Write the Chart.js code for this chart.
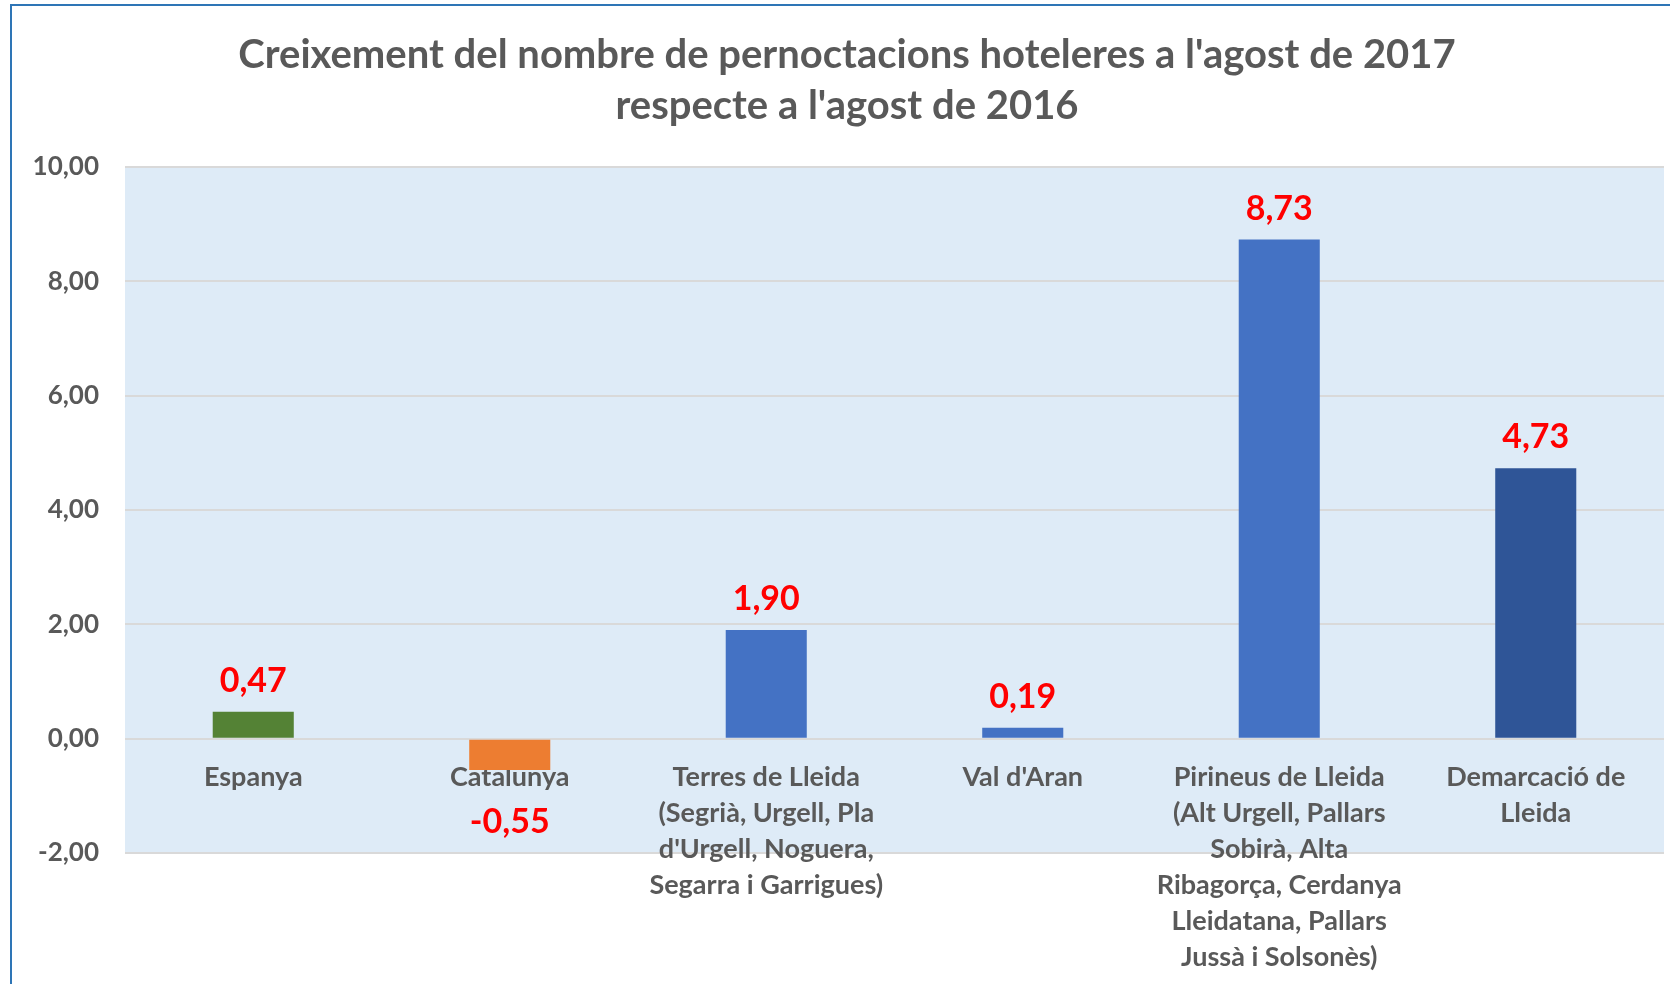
<!DOCTYPE html>
<html>
<head>
<meta charset="utf-8">
<script src="https://cdn.jsdelivr.net/npm/chart.js@4"></script>
<style>
  body { margin: 0; background: #fff; }
  #frame { position: absolute; left: 10px; top: 4px; width: 1660px; height: 980px;
           border-left: 2px solid #2E75B6; border-top: 2px solid #2E75B6; }
  #myChart { position: absolute; left: 0; top: 0; }
</style>
</head>
<body>
<div id="frame"></div>
<canvas id="myChart" width="1670" height="984"></canvas>
<script>
const categories = [
    'Espanya',
    'Catalunya',
    ['Terres de Lleida', '(Segrià, Urgell, Pla', "d'Urgell, Noguera,", 'Segarra i Garrigues)'],
    "Val d'Aran",
    ['Pirineus de Lleida', '(Alt Urgell, Pallars', 'Sobirà, Alta', 'Ribagorça, Cerdanya', 'Lleidatana, Pallars', 'Jussà i Solsonès)'],
    ['Demarcació de', 'Lleida']
];
const values = [0.47, -0.55, 1.90, 0.19, 8.73, 4.73];
const barColors = ['#548235', '#ED7D31', '#4472C4', '#4472C4', '#4472C4', '#2F5597'];
const titleLines = ["Creixement del nombre de pernoctacions hoteleres a l'agost de 2017", "respecte a l'agost de 2016"];

const FONT = 'Lato, Calibri, sans-serif';
const GRAY = '#595959';

function fmt(v) {
    return v.toFixed(2).replace('.', ',');
}

// light blue plot area
const plotBg = {
    id: 'plotBg',
    beforeDraw(chart) {
        const a = chart.chartArea;
        const ctx = chart.ctx;
        ctx.save();
        ctx.fillStyle = '#DEEBF7';
        ctx.fillRect(a.left, a.top, a.right - a.left, a.bottom - a.top);
        ctx.restore();
    }
};

// red value labels
const valueLabels = {
    id: 'valueLabels',
    afterDatasetsDraw(chart) {
        const ctx = chart.ctx;
        const meta = chart.getDatasetMeta(0);
        ctx.save();
        ctx.font = 'bold 34px ' + FONT;
        ctx.fillStyle = '#FF0000';
        ctx.textAlign = 'center';
        ctx.textBaseline = 'middle';
        meta.data.forEach((bar, i) => {
            const v = values[i];
            const y = v >= 0 ? bar.y - 31 : bar.y + 52;
            ctx.fillText(fmt(v), bar.x, y);
        });
        ctx.restore();
    }
};

let ctx = document.getElementById('myChart').getContext('2d');

let myChart = new Chart(ctx, {
    type: 'bar',
    data: {
        labels: categories,
        datasets: [{
            data: values,
            backgroundColor: barColors,
            borderWidth: 0,
            categoryPercentage: 1,
            barPercentage: 0.316,
        }]
    },
    options: {
        responsive: false,
        animation: false,
        layout: {
            padding: { left: 30, right: 6, top: 0, bottom: 131 }
        },
        scales: {
            x: {
                position: { y: 0 },
                grid: { display: false, drawTicks: false, tickLength: 0 },
                border: { display: false },
                ticks: {
                    autoSkip: false,
                    maxRotation: 0,
                    padding: 21,
                    color: GRAY,
                    font: { family: FONT, size: 27, weight: 'bold', lineHeight: 1.333 }
                }
            },
            y: {
                min: -2,
                max: 10,
                afterFit(scale) { scale.width = 95; },
                grid: { color: '#D9D9D9', lineWidth: 2, drawTicks: false },
                border: { display: false },
                ticks: {
                    stepSize: 2,
                    padding: 26,
                    color: GRAY,
                    font: { family: FONT, size: 26, weight: 'bold' },
                    callback: function(value) {
                        return fmt(value);
                    }
                }
            }
        },
        plugins: {
            legend: { display: false },
            tooltip: { enabled: false },
            title: {
                display: true,
                text: titleLines,
                color: GRAY,
                font: { family: FONT, size: 40, weight: 'bold', lineHeight: 1.275 },
                padding: { top: 30, bottom: 35 }
            }
        }
    },
    plugins: [plotBg, valueLabels]
});
</script>
</body>
</html>
